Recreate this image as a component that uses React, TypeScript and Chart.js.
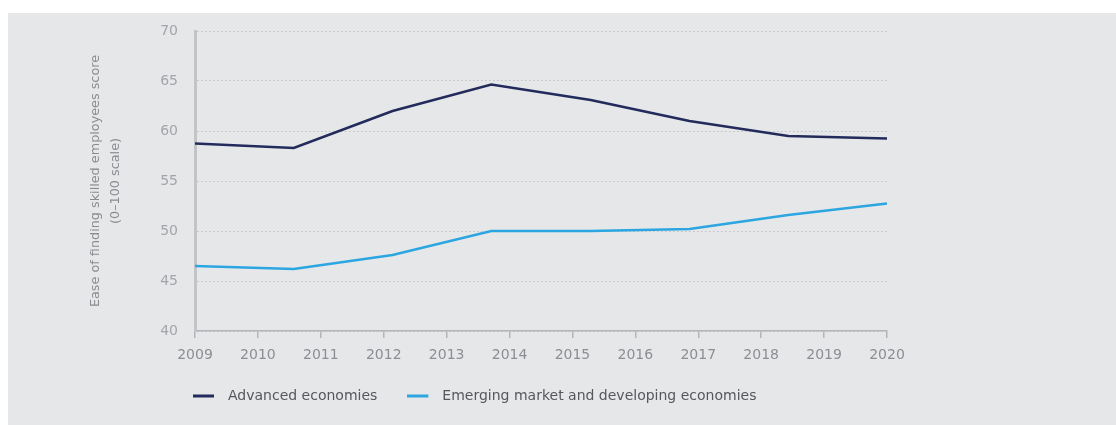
import { useEffect, useRef } from "react";
import { Chart, registerables } from "chart.js";

Chart.register(...registerables);

// ---- data ----
const seriesNames = ["Advanced economies", "Emerging market and developing economies"];
const seriesColors = ["#222b5c", "#2ba6e0"];
const pointYears = [2009, 2010.57, 2012.14, 2013.71, 2015.29, 2016.86, 2018.43, 2020];
const advanced = [58.75, 58.3, 62.0, 64.65, 63.1, 61.0, 59.5, 59.25];
const emerging = [46.5, 46.2, 47.6, 50.0, 50.0, 50.2, 51.6, 52.75];
const yearMin = 2009;
const yearMax = 2020;
const scoreMin = 40;
const scoreMax = 70;
const scoreStep = 5;
const axisTitle = ["Ease of finding skilled employees score", "(0–100 scale)"];

const FONT = "'DejaVu Sans', 'Liberation Sans', sans-serif";

function lineSwatch(color: string) {
  const c = document.createElement("canvas");
  c.width = 28;
  c.height = 4;
  const g = c.getContext("2d")!;
  g.fillStyle = color;
  g.fillRect(0, 0.5, 21, 3);
  return c;
}

const legendPlace = {
  id: "legendPlace",
  afterLayout(chart: any) {
    const lg = chart.legend;
    if (!lg) return;
    lg.left = chart.chartArea.left - 32;
    lg.top = chart.chartArea.bottom + 28;
  },
};

export default function App() {
  const ref = useRef<HTMLCanvasElement | null>(null);

  useEffect(() => {
    if (!ref.current) return;
    const series = [advanced, emerging];
    const chart = new Chart(ref.current, {
      type: "line",
      data: {
        datasets: series.map((vals, i) => ({
          label: seriesNames[i],
          data: vals.map((v, j) => ({ x: pointYears[j], y: v })),
          borderColor: seriesColors[i],
          backgroundColor: seriesColors[i],
          borderWidth: 2.6,
          pointRadius: 0,
          pointHoverRadius: 0,
          pointStyle: lineSwatch(seriesColors[i]) as any,
          tension: 0,
          fill: false,
        })),
      },
      options: {
        responsive: false,
        maintainAspectRatio: false,
        animation: false,
        layout: { padding: { top: 18, left: 0, right: 229, bottom: 0 } },
        plugins: {
          tooltip: { enabled: false },
          legend: {
            position: "bottom",
            align: "start",
            labels: {
              usePointStyle: true,
              pointStyleWidth: 28,
              padding: 30,
              color: "#55575c",
              font: { family: FONT, size: 14 },
            },
          },
        },
        scales: {
          x: {
            type: "linear",
            min: yearMin,
            max: yearMax,
            afterFit: (s: any) => {
              const lgH = s.chart.legend ? s.chart.legend.height : 0;
              s.height = 412 - 318 - lgH;
            },
            ticks: {
              stepSize: 1,
              padding: 9,
              color: "#8b8e93",
              font: { family: FONT, size: 14 },
              callback: (v: any) => String(v),
              maxRotation: 0,
              autoSkip: false,
            },
            grid: {
              drawOnChartArea: false,
              drawTicks: true,
              tickLength: 7,
              color: "#b4b5b8",
              lineWidth: 1.5,
            },
            border: { display: true, color: "#b4b5b8", width: 1.5 },
          },
          y: {
            min: scoreMin,
            max: scoreMax,
            afterFit: (s: any) => {
              s.width = 187;
              s.paddingTop = 0;
              s.paddingBottom = 0;
            },
            ticks: {
              stepSize: scoreStep,
              padding: 17,
              color: "#a3a5aa",
              font: { family: FONT, size: 14 },
            },
            grid: {
              drawTicks: false,
              color: "#bfc0c4",
              lineWidth: 1,
            },
            border: { display: true, color: "#c3c4c7", width: 3, dash: [1.5, 2.5] },
            title: {
              display: true,
              text: axisTitle,
              color: "#8a8c91",
              font: { family: FONT, size: 12.8, lineHeight: "20px" as any },
              padding: { top: 77.5, bottom: 0 },
            },
          },
        },
      },
      plugins: [legendPlace],
    });
    return () => chart.destroy();
  }, []);

  return (
    <div
      style={{
        position: "fixed",
        left: 8,
        top: 13,
        width: 1108,
        height: 412,
        background: "#e6e7e9",
      }}
    >
      <canvas ref={ref} width={1108} height={412} style={{ display: "block" }} />
    </div>
  );
}
